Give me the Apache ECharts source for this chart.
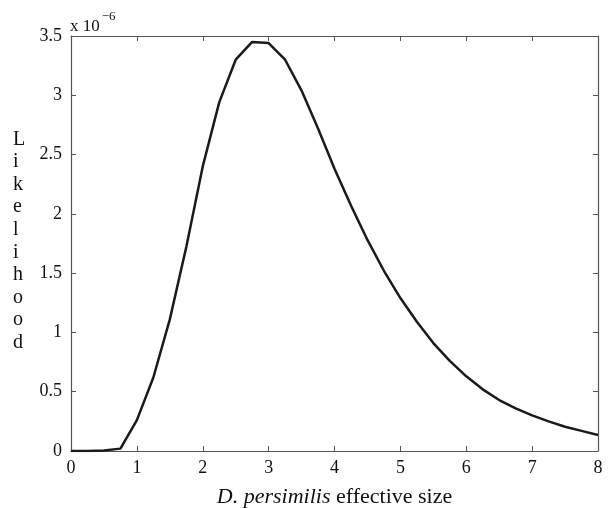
<!DOCTYPE html>
<html>
<head>
<meta charset="utf-8">
<script src="https://cdn.jsdelivr.net/npm/echarts@6/dist/echarts.min.js"></script>
<style>
  html, body { margin: 0; padding: 0; background: #fff; }
</style>
</head>
<body>
<div id="main" style="width: 608px;height:508px;"></div>
<script>
// effective size (x) and likelihood in units of 1e-6 (y)
const sizes = [0, 0.25, 0.5, 0.75, 1, 1.25, 1.5, 1.75, 2, 2.25, 2.5, 2.75, 3, 3.25,
  3.5, 3.75, 4, 4.25, 4.5, 4.75, 5, 5.25, 5.5, 5.75, 6, 6.25, 6.5, 6.75, 7, 7.25, 7.5, 7.75, 8]
const likelihood = [0, 0, 0.005, 0.02, 0.26, 0.62, 1.11, 1.72, 2.40, 2.94, 3.30, 3.45, 3.44, 3.30,
  3.04, 2.72, 2.38, 2.07, 1.78, 1.52, 1.29, 1.09, 0.91, 0.76, 0.63, 0.52, 0.43, 0.36, 0.30, 0.25, 0.205, 0.17, 0.135]
const xTicks = [0, 1, 2, 3, 4, 5, 6, 7, 8]
const yTicks = [0, 0.5, 1, 1.5, 2, 2.5, 3, 3.5]

const font = 'Liberation Serif, Times New Roman, serif'
const axisColor = '#555'

var myChart = echarts.init(document.getElementById('main'))

// shared look for the four sides of the box
const boxAxis = {
  axisLine: { show: true, onZero: false, lineStyle: { color: axisColor, width: 1.2 } },
  axisTick: { show: true, inside: true, length: 5, lineStyle: { color: axisColor } },
  splitLine: { show: false }
}

var option = {
  animation: false,
  grid: { left: 71, right: 10, top: 36, bottom: 57, containLabel: false, outerBoundsMode: 'none' },
  xAxis: [
    Object.assign({
      type: 'value',
      min: xTicks[0],
      max: xTicks[xTicks.length - 1],
      interval: 1,
      position: 'bottom',
      axisLabel: { color: '#111', fontFamily: font, fontSize: 18, margin: 8 },
      name: '{i|D. persimilis} effective size',
      nameLocation: 'middle',
      nameGap: 35,
      nameTextStyle: {
        color: '#111', fontFamily: font, fontSize: 22,
        rich: { i: { fontStyle: 'italic', fontFamily: font, fontSize: 22, color: '#111' } }
      }
    }, boxAxis),
    Object.assign({
      type: 'value',
      min: xTicks[0],
      max: xTicks[xTicks.length - 1],
      interval: 1,
      position: 'top',
      axisLabel: { show: false }
    }, boxAxis)
  ],
  yAxis: [
    Object.assign({
      type: 'value',
      min: yTicks[0],
      max: yTicks[yTicks.length - 1],
      interval: 0.5,
      position: 'left',
      axisLabel: { color: '#111', fontFamily: font, fontSize: 18, margin: 9 }
    }, boxAxis),
    Object.assign({
      type: 'value',
      min: yTicks[0],
      max: yTicks[yTicks.length - 1],
      interval: 0.5,
      position: 'right',
      axisLabel: { show: false }
    }, boxAxis)
  ],
  graphic: [
    {
      type: 'text',
      left: 70,
      top: 10,
      style: {
        text: '{a|x 10}{b|−6}',
        rich: {
          a: { fontFamily: font, fontSize: 17, fill: '#111', verticalAlign: 'bottom', lineHeight: 24 },
          b: { fontFamily: font, fontSize: 13, fill: '#111', verticalAlign: 'top', padding: [0, 0, 12, 2] }
        }
      }
    },
    {
      type: 'text',
      left: 13,
      top: 128,
      style: {
        text: 'L\ni\nk\ne\nl\ni\nh\no\no\nd',
        font: '20px ' + font,
        fill: '#111',
        align: 'center',
        lineHeight: 22.6
      }
    }
  ],
  series: [
    {
      type: 'line',
      data: sizes.map((s, i) => [s, likelihood[i]]),
      showSymbol: false,
      smooth: false,
      lineStyle: { color: '#1a1a1a', width: 2.5 }
    }
  ]
}

myChart.setOption(option)
</script>
</body>
</html>
